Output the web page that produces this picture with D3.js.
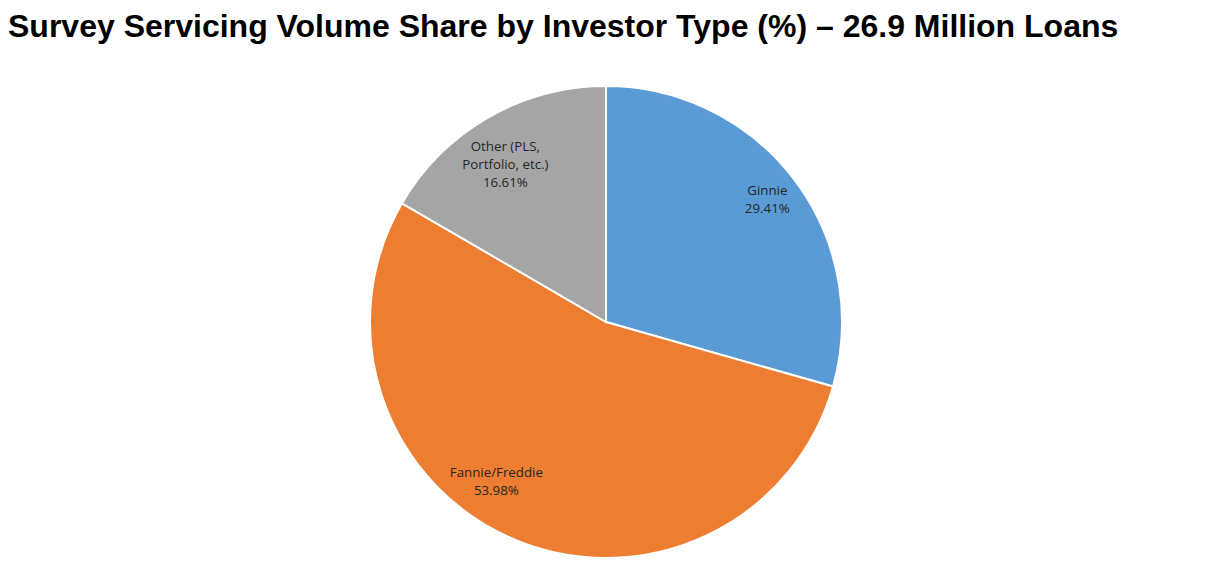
<!DOCTYPE html>
<html>
<head>
<meta charset="utf-8">
<script src="https://cdn.jsdelivr.net/npm/d3@7"></script>
<style>
  body { margin: 0; background: #fff; }
</style>
</head>
<body>
<div id="chart"></div>
<script>
// Data
var categories = ["Ginnie", "Fannie/Freddie", "Other (PLS, Portfolio, etc.)"];
var labelLines = [["Ginnie"], ["Fannie/Freddie"], ["Other (PLS,", "Portfolio, etc.)"]];
var shares = [29.41, 53.98, 16.61];
var colors = ["#5B9BD5", "#ED7D31", "#A5A5A5"];

// Label nudges (px) to mimic Excel's best-fit placement
var labelNudge = { "Ginnie": [5, -4], "Fannie/Freddie": [-33, -20], "Other (PLS, Portfolio, etc.)": [-3, 13] };

var width = 1222, height = 584;
var cx = 606, cy = 322, radius = 236;

var svg = d3.select("#chart")
    .append("svg")
    .attr("width", width)
    .attr("height", height);

// Title
svg.append("text")
    .attr("x", 8)
    .attr("y", 37)
    .attr("font-family", "Liberation Sans, Arial, sans-serif")
    .attr("font-weight", "bold")
    .attr("font-size", 32)
    .attr("fill", "#000")
    .text("Survey Servicing Volume Share by Investor Type (%) \u2013 26.9 Million Loans");

var data = categories.map(function (c, i) {
    return { name: c, lines: labelLines[i], value: shares[i], color: colors[i] };
});

var pie = d3.pie()
    .sort(null)
    .value(function (d) { return d.value });

var arc = d3.arc()
    .innerRadius(0)
    .outerRadius(radius);

var labelArc = d3.arc()
    .innerRadius(radius * 0.83)
    .outerRadius(radius * 0.83);

var g = svg.append("g")
    .attr("transform", "translate(" + cx + "," + cy + ")");

g.selectAll("path")
    .data(pie(data))
    .enter()
    .append("path")
    .attr("d", arc)
    .attr("fill", function (d) { return d.data.color })
    .attr("stroke", "#fff")
    .attr("stroke-width", 2);

// Labels
var labels = g.selectAll(".lbl")
    .data(pie(data))
    .enter()
    .append("text")
    .attr("class", "lbl")
    .attr("text-anchor", "middle")
    .attr("font-family", "Open Sans, sans-serif")
    .attr("font-size", 13.3)
    .attr("fill", "#262626")
    .attr("transform", function (d) {
        var c = labelArc.centroid(d);
        var nudge = labelNudge[d.data.name];
        var n = d.data.lines.length + 1;
        return "translate(" + (c[0] + nudge[0]) + "," + (c[1] + nudge[1] - (n - 1) * 9 + 4) + ")";
    });

labels.each(function (d) {
    var t = d3.select(this);
    var lines = d.data.lines.concat([d.data.value.toFixed(2) + "%"]);
    lines.forEach(function (l, i) {
        t.append("tspan")
            .attr("x", 0)
            .attr("dy", i === 0 ? 0 : 18)
            .text(l);
    });
});
</script>
</body>
</html>
